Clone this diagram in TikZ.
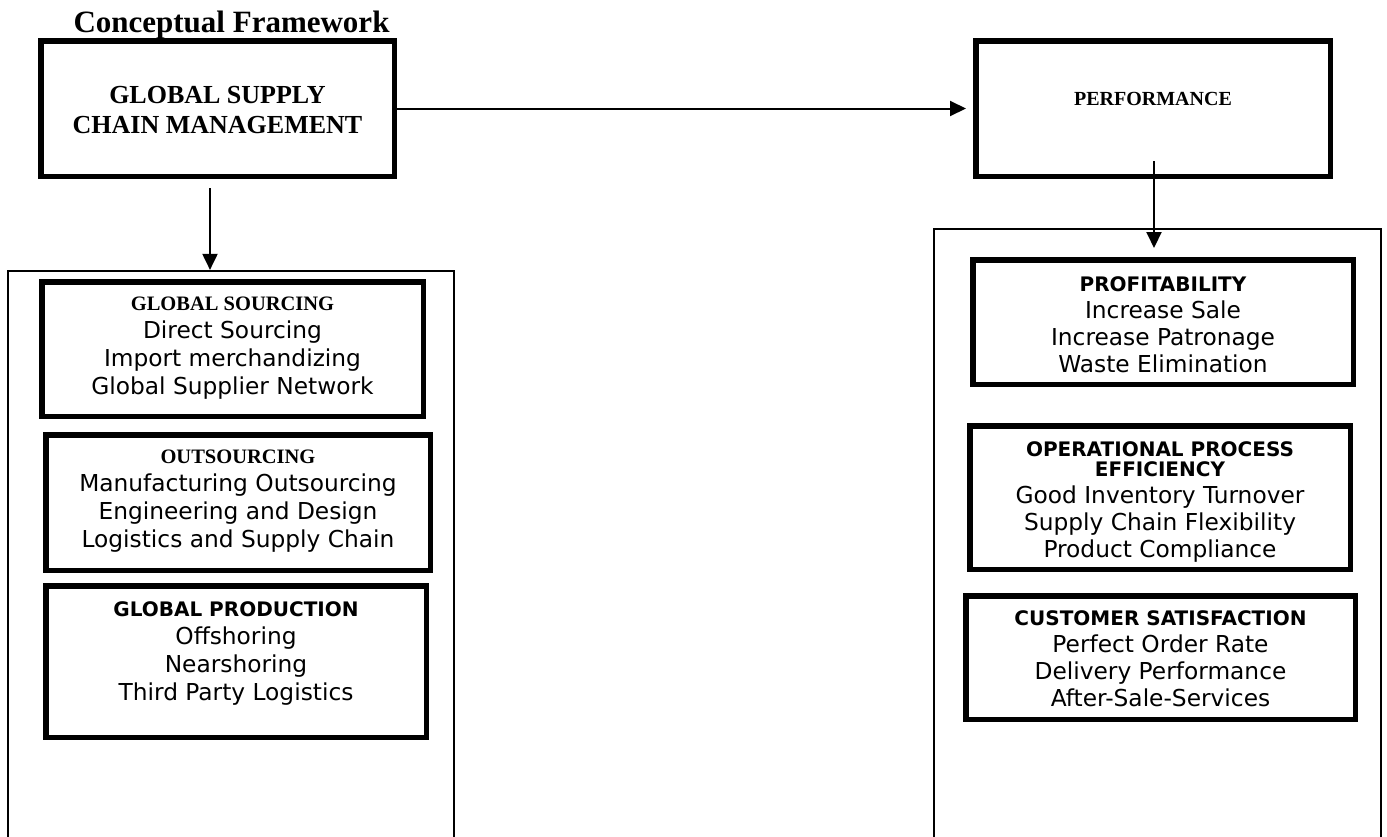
\documentclass[tikz,border=0pt]{standalone}
\usepackage{fontspec}
\setmainfont{Liberation Serif}
\newfontfamily\vsans{DejaVu Sans}
\usetikzlibrary{arrows.meta}
\newcommand\sertitle[1]{{\rmfamily\bfseries\fontsize{20.5}{28}\selectfont #1}}
\newcommand\santitle[1]{{\vsans\bfseries\fontsize{20}{27}\selectfont #1}}
\begin{document}
\begin{tikzpicture}[x=1pt,y=-1pt,
  thickbox/.style={draw, line width=5.5pt, inner sep=0pt, rectangle},
  frame/.style={draw, line width=2.2pt, inner sep=0pt, rectangle},
  arr/.style={line width=2pt, -{Triangle[length=16pt,width=15pt]}},
  ltext/.style={anchor=north, inner sep=0pt, align=center, font=\vsans\fontsize{23.3}{28}\selectfont},
  rtext/.style={anchor=north, inner sep=0pt, align=center, font=\vsans\fontsize{23.3}{27}\selectfont},
  sertext/.style={anchor=north, inner sep=0pt, align=center}
  ]
\useasboundingbox (0,0) rectangle (1387,836);
\clip (0,0) rectangle (1387,836);

% title
\node[anchor=base, inner sep=0pt, font=\bfseries\fontsize{31}{36}\selectfont] (title) at (231.5,32) {Conceptual Framework};

% top boxes
\node[thickbox, minimum width=353.5pt, minimum height=135.5pt] (gscm) at (217.5,108.5) {};
\node[sertext, font=\bfseries\fontsize{26}{30}\selectfont] (gscmtext) at (217.5,86) {GLOBAL SUPPLY\\CHAIN MANAGEMENT};

\node[thickbox, minimum width=354.5pt, minimum height=135.5pt] (perf) at (1153,108.5) {};
\node[sertext, font=\bfseries\fontsize{20}{24}\selectfont] (perftext) at (1153,92) {PERFORMANCE};

% containers
\node[frame, minimum width=446pt, minimum height=599pt] (lbox) at (231,570.5) {};
\node[frame, minimum width=447pt, minimum height=640pt] (rbox) at (1157.5,549) {};

% left inner boxes
\node[thickbox, minimum width=381.5pt, minimum height=134.5pt] (gs) at (232.5,349) {};
\node[ltext] (gstext) at (232.5,297) {\sertitle{GLOBAL SOURCING}\\Direct Sourcing\\Import merchandizing\\Global Supplier Network};

\node[thickbox, minimum width=384.5pt, minimum height=135.5pt] (out) at (238,502.5) {};
\node[ltext] (outtext) at (238,450) {\sertitle{OUTSOURCING}\\Manufacturing Outsourcing\\Engineering and Design\\Logistics and Supply Chain};

\node[thickbox, minimum width=380.5pt, minimum height=151.5pt] (gp) at (236,661.5) {};
\node[ltext] (gptext) at (236,601.7) {\santitle{GLOBAL PRODUCTION}\\Offshoring\\Nearshoring\\Third Party Logistics};

% right inner boxes
\node[thickbox, minimum width=380.5pt, minimum height=124.5pt] (prof) at (1163,322) {};
\node[rtext] (proftext) at (1163,276) {\santitle{PROFITABILITY}\\Increase Sale\\Increase Patronage\\Waste Elimination};

\node[thickbox, minimum width=380.5pt, minimum height=143.5pt] (ope) at (1160,497.5) {};
\node[rtext] (opetext) at (1160,441.7) {\santitle{OPERATIONAL PROCESS}\\[-7pt]\santitle{EFFICIENCY}\\Good Inventory Turnover\\Supply Chain Flexibility\\Product Compliance};

\node[thickbox, minimum width=389.5pt, minimum height=123.5pt] (cs) at (1160.5,657.5) {};
\node[rtext] (cstext) at (1160.5,610.7) {\santitle{CUSTOMER SATISFACTION}\\Perfect Order Rate\\Delivery Performance\\After-Sale-Services};

% connectors
\coordinate (perfin) at ([xshift=-7pt]perf.west);
\draw[arr] (gscm.east) -- (perfin);

\coordinate (g1) at (210,188);
\draw[arr] (g1) -- (g1 |- lbox.north);

\coordinate (p1) at (1154,161);
\coordinate (p2) at (1154,248);
\draw[arr] (p1) -- (p2);
\end{tikzpicture}
\end{document}
